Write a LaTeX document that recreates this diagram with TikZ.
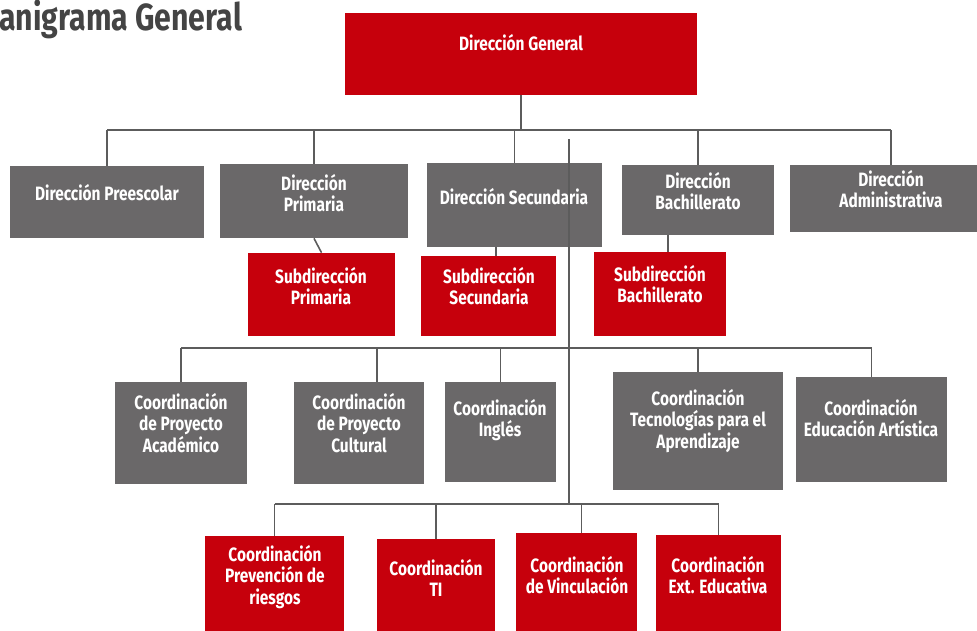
\documentclass[tikz,border=0pt]{standalone}
\usepackage{fontspec}
\setmainfont{Fira Sans}[FakeStretch=0.8]
\usetikzlibrary{fit}
\definecolor{orgred}{RGB}{198,0,12}
\definecolor{orggray}{RGB}{106,104,105}
\definecolor{wirec}{RGB}{92,92,92}
\definecolor{titlec}{RGB}{68,68,68}

\begin{document}
\begin{tikzpicture}[x=0.02cm, y=-0.02cm,
	redbox/.style = {fill=orgred, inner sep=0pt},
	graybox/.style = {fill=orggray, inner sep=0pt},
	txt/.style = {text=white, align=center, inner sep=0pt, font=\fontsize{11}{12}\selectfont\bfseries},
	wire/.style = {draw=wirec, line width=0.9pt}]
			\useasboundingbox (0,0) rectangle (977,630);
			\clip (0,0) rectangle (977,630);
			\node[anchor=base west, inner sep=0pt, text=titlec, font=\fontsize{21.5}{24}\selectfont\bfseries] (title) at (-1,30) {anigrama General};
			% direccion general
			\node[redbox, fit={(345,13) (697,95)}] (dgen) {};
			\node[txt] (dgen-t) at (521,43) {Dirección General};
			% direcciones
			\node[graybox, fit={(10,166) (204,238)}] (dpre) {};
			\node[txt] (dpre-t) at (107,193) {Dirección Preescolar};
			\node[graybox, fit={(220,164) (408,238)}] (dprim) {};
			\node[txt] (dprim-t) at (314,193) {Dirección\\Primaria};
			\node[graybox, fit={(427,163) (602,247)}] (dsec) {};
			\node[txt] (dsec-t) at (514,197) {Dirección Secundaria};
			\node[graybox, fit={(622,165) (774,235)}] (dbach) {};
			\node[txt] (dbach-t) at (698,191) {Dirección\\Bachillerato};
			\node[graybox, fit={(790,165) (992,232)}] (dadm) {};
			\node[txt] (dadm-t) at (891,189) {Dirección\\Administrativa};
			% subdirecciones
			\node[redbox, fit={(248,253) (395,336)}] (sprim) {};
			\node[txt] (sprim-t) at (321,286) {Subdirección\\Primaria};
			\node[redbox, fit={(421,256) (556,336)}] (ssec) {};
			\node[txt] (ssec-t) at (489,286) {Subdirección\\Secundaria};
			\node[redbox, fit={(594,252) (726,336)}] (sbach) {};
			\node[txt] (sbach-t) at (660,284) {Subdirección\\Bachillerato};
			% coordinaciones
			\node[graybox, fit={(115,382) (247,484)}] (cacad) {};
			\node[txt] (cacad-t) at (181,423) {Coordinación\\de Proyecto\\Académico};
			\node[graybox, fit={(294,382) (424,484)}] (ccul) {};
			\node[txt] (ccul-t) at (359,423) {Coordinación\\de Proyecto\\Cultural};
			\node[graybox, fit={(445,382) (556,482)}] (cing) {};
			\node[txt] (cing-t) at (500,420) {Coordinación\\Inglés};
			\node[graybox, fit={(613,372) (783,490)}] (ctec) {};
			\node[txt] (ctec-t) at (698,421) {Coordinación\\Tecnologías para el\\Aprendizaje};
			\node[graybox, fit={(796,377) (947,482)}] (cart) {};
			\node[txt] (cart-t) at (871,418) {Coordinación\\Educación Artística};
			\node[redbox, fit={(205,536) (344,640)}] (cprev) {};
			\node[txt] (cprev-t) at (275,577) {Coordinación\\Prevención de\\riesgos};
			\node[redbox, fit={(377,539) (495,640)}] (cti) {};
			\node[txt] (cti-t) at (436,578) {Coordinación\\TI};
			\node[redbox, fit={(516,533) (637,640)}] (cvin) {};
			\node[txt] (cvin-t) at (577,575) {Coordinación\\de Vinculación};
			\node[redbox, fit={(656,535) (781,640)}] (cext) {};
			\node[txt] (cext-t) at (718,575) {Coordinación\\Ext. Educativa};
			% lineas
			\coordinate (bus1) at (0,130);
			\coordinate (bus3) at (0,348);
			\coordinate (bus4) at (0,504);
			\coordinate (spine) at (569,139);
			\draw[wire] (dgen.south) -- (dgen.south |- bus1);
			\draw[wire] (dpre.north |- bus1) -- (dadm.north |- bus1);
			\draw[wire] (dpre.north) -- (dpre.north |- bus1);
			\draw[wire] (dprim.north) -- (dprim.north |- bus1);
			\draw[wire] (dsec.north) -- (dsec.north |- bus1);
			\draw[wire] (dbach.north) -- (dbach.north |- bus1);
			\draw[wire] (dadm.north) -- (dadm.north |- bus1);
			\draw[wire] (dprim.south) -- (sprim.north);
			\draw[wire] ([xshift=0.15cm]ssec.north) -- ([xshift=0.15cm]ssec.north |- dsec.south);
			\draw[wire] ([xshift=0.16cm]sbach.north) -- ([xshift=0.16cm]sbach.north |- dbach.south);
			\draw[wire] (spine) -- (spine |- bus4);
			\draw[wire] (cacad.north |- bus3) -- (cart.north |- bus3);
			\draw[wire] (cacad.north) -- (cacad.north |- bus3);
			\draw[wire] ([xshift=0.36cm]ccul.north) -- ([xshift=0.36cm]ccul.north |- bus3);
			\draw[wire] (cing.north) -- (cing.north |- bus3);
			\draw[wire] (ctec.north) -- (ctec.north |- bus3);
			\draw[wire] (cart.north) -- (cart.north |- bus3);
			\draw[wire] (cprev.north |- bus4) -- (cext.north |- bus4);
			\draw[wire] (cprev.north) -- (cprev.north |- bus4);
			\draw[wire] (cti.north) -- (cti.north |- bus4);
			\draw[wire] ([xshift=0.1cm]cvin.north) -- ([xshift=0.1cm]cvin.north |- bus4);
			\draw[wire] (cext.north) -- (cext.north |- bus4);
			\end{tikzpicture}
\end{document}
